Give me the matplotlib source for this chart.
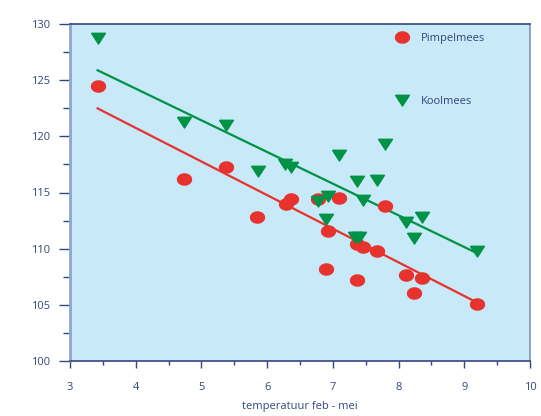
import numpy as np
import matplotlib
matplotlib.use('Agg')
import matplotlib.pyplot as plt
from matplotlib.ticker import MultipleLocator

plt.rcParams['font.family'] = ['Open Sans', 'DejaVu Sans']

# Pimpelmees (rood, cirkels)
pimpel_x = [3.42, 4.74, 5.37, 5.85, 6.29, 6.37, 6.78, 7.10, 7.79, 6.93,
            7.36, 7.46, 7.67, 6.90, 7.36, 8.12, 8.35, 8.23, 9.19]
pimpel_y = [124.5, 116.2, 117.3, 112.8, 114.0, 114.4, 114.4, 114.5, 113.8, 111.6,
            110.4, 110.1, 109.8, 108.2, 107.2, 107.6, 107.4, 106.0, 105.1]

# Koolmees (groen, driehoeken)
kool_x = [3.42, 4.74, 5.37, 5.86, 6.27, 6.37, 7.09, 7.79, 7.36, 7.67,
          6.93, 6.78, 7.46, 8.12, 8.35, 8.23, 6.90, 7.33, 7.40, 9.19]
kool_y = [128.8, 121.3, 121.0, 116.9, 117.5, 117.3, 118.3, 119.3, 116.0, 116.1,
          114.7, 114.2, 114.3, 112.4, 112.8, 110.9, 112.6, 111.0, 111.0, 109.8]

pimpel_fit_x = [3.42, 9.19]
pimpel_fit_y = [122.5, 105.2]
kool_fit_x = [3.42, 9.19]
kool_fit_y = [125.9, 109.6]

red = '#e8322e'
green = '#009245'
navy = '#34467e'
bg = '#c7e9f8'

# iets afgeplatte markers
t = np.linspace(0, 2 * np.pi, 60)
ellipse = np.column_stack([np.cos(t), 0.8 * np.sin(t)])
tri = [(-1, 0.75), (1, 0.75), (0, -0.8), (-1, 0.75)]

fig = plt.figure(figsize=(5.41, 4.16), dpi=100)
ax = fig.add_axes([70 / 541, 1 - 360.7 / 416, 460 / 541, 336.4 / 416])
ax.set_facecolor(bg)

ax.plot(pimpel_fit_x, pimpel_fit_y, color=red, lw=1.6, zorder=2)
ax.plot(kool_fit_x, kool_fit_y, color=green, lw=1.6, zorder=2)
ax.plot(pimpel_x, pimpel_y, ls='none', marker=ellipse, ms=10, color=red,
        label='Pimpelmees', zorder=3)
ax.plot(kool_x, kool_y, ls='none', marker=tri, ms=10, color=green,
        label='Koolmees', zorder=3)

ax.set_xlim(3, 10)
ax.set_ylim(100, 130)
ax.xaxis.set_major_locator(MultipleLocator(1))
ax.xaxis.set_minor_locator(MultipleLocator(0.5))
ax.yaxis.set_major_locator(MultipleLocator(5))
ax.yaxis.set_minor_locator(MultipleLocator(2.5))

ax.tick_params(axis='x', which='major', direction='out', length=5, width=1,
               color=navy, labelcolor=navy, labelsize=8, pad=10)
ax.tick_params(axis='x', which='minor', direction='out', length=3, width=1, color=navy)
ax.tick_params(axis='y', which='major', direction='out', length=8, width=1,
               color=navy, labelcolor=navy, labelsize=8, pad=6)
ax.tick_params(axis='y', which='minor', direction='out', length=5, width=1, color=navy)

ax.spines['top'].set_color(navy)
ax.spines['bottom'].set_color(navy)
ax.spines['left'].set_color('#8ea6cf')
ax.spines['right'].set_color('#7f93bd')
ax.spines['left'].set_linewidth(2)
ax.spines['right'].set_linewidth(1.2)
ax.spines['top'].set_linewidth(1.2)
ax.spines['bottom'].set_linewidth(1.2)

ax.set_xlabel('temperatuur feb - mei', color=navy, fontsize=8, labelpad=6)

leg = ax.legend(loc='upper left', bbox_to_anchor=(0.709, 0.975), frameon=False,
                fontsize=8, labelspacing=4.7, handlelength=1.0, handletextpad=1.2,
                borderpad=0, borderaxespad=0)
for txt in leg.get_texts():
    txt.set_color(navy)

fig.savefig('out.png', dpi=100)
